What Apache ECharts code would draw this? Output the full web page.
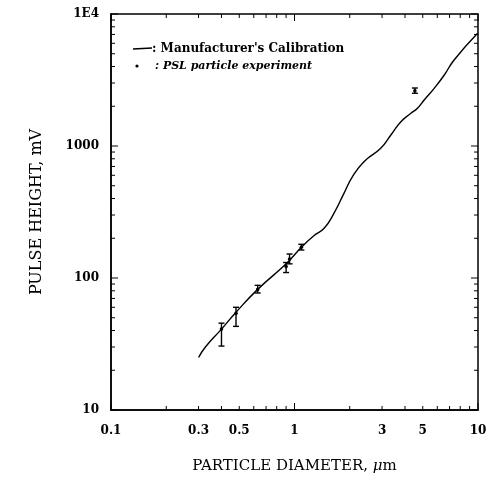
<!DOCTYPE html>
<html>
<head>
<meta charset="utf-8">
<script src="https://cdn.jsdelivr.net/npm/echarts@6/dist/echarts.min.js"></script>
<style>
  html, body { margin: 0; padding: 0; background: #fff; }
  #main { width: 493px; height: 480px; }
</style>
</head>
<body>
<div id="main"></div>
<script>
(function () {
    // calibration curve (manufacturer)
    const curveX = [0.30, 0.327, 0.40, 0.48, 0.63, 0.91, 1.09, 1.27, 1.45, 1.64, 1.86, 2.07, 2.39, 2.95, 3.35, 3.80, 4.31, 4.68, 5.09, 5.77, 6.55, 7.41, 9.95]
    const curveY = [25, 30, 41, 55, 82, 130, 171, 208, 238, 309, 438, 586, 760, 961, 1211, 1528, 1769, 1932, 2230, 2735, 3451, 4487, 7150]

    // PSL particle experiment, mean and error bar ends
    const pslX = [0.40, 0.48, 0.63, 0.90, 0.94, 1.09, 4.53]
    const pslMid = [41, 54, 82, 122, 139, 171, 2620]
    const pslLow = [30.5, 43, 77, 110, 128, 163, 2510]
    const pslHigh = [45.5, 60, 88, 131, 152, 180, 2750]

    // axis ticks and labels
    const xTickLabels = [0.1, 0.3, 0.5, 1, 3, 5, 10]
    const xMajor = [0.1, 1, 10]
    const xMinor = [0.2, 0.3, 0.4, 0.5, 0.6, 0.7, 0.8, 0.9, 2, 3, 4, 5, 6, 7, 8, 9]
    const yMajor = [10, 100, 1000, 10000]
    const yMinor = [20, 30, 40, 50, 60, 70, 80, 90, 200, 300, 400, 500, 600, 700, 800, 900,
        2000, 3000, 4000, 5000, 6000, 7000, 8000, 9000]

    const X_MIN = 0.1, X_MAX = 10, Y_MIN = 10, Y_MAX = 10000
    const serif = '"DejaVu Serif", "Liberation Serif", serif'

    const chart = echarts.init(document.getElementById('main'))

    const curveData = curveX.map((x, i) => [x, curveY[i]])
    const pslData = pslX.map((x, i) => [x, pslMid[i], pslLow[i], pslHigh[i]])

    const xTickData = xMajor.map(v => [v, Y_MIN, 1]).concat(xMinor.map(v => [v, Y_MIN, 0]))
    const yTickData = yMajor.map(v => [X_MIN, v, 1]).concat(yMinor.map(v => [X_MIN, v, 0]))

    const option = {
        animation: false,
        grid: { left: 111, right: 15, top: 14, bottom: 70, show: true, borderColor: '#000', borderWidth: 1.5 },
        xAxis: {
            type: 'log',
            logBase: 10,
            min: X_MIN,
            max: X_MAX,
            name: 'PARTICLE DIAMETER, {mu|μ}m',
            nameLocation: 'middle',
            nameGap: 49,
            nameTextStyle: {
                fontFamily: serif, fontSize: 15, color: '#000',
                rich: { mu: { fontFamily: serif, fontSize: 15, fontStyle: 'italic', color: '#000' } }
            },
            axisLine: { lineStyle: { color: '#000', width: 1.5 } },
            axisTick: { show: false },
            axisLabel: { show: false },
            splitLine: { show: false },
            minorTick: { show: false },
            minorSplitLine: { show: false }
        },
        yAxis: {
            type: 'log',
            logBase: 10,
            min: Y_MIN,
            max: Y_MAX,
            name: 'PULSE HEIGHT, mV',
            nameLocation: 'middle',
            nameGap: 66,
            nameTextStyle: { fontFamily: serif, fontSize: 16, color: '#000' },
            axisLine: { lineStyle: { color: '#000', width: 1.5 } },
            axisTick: { show: false },
            axisLabel: {
                fontFamily: serif, fontSize: 12, fontWeight: 'bold', color: '#000', margin: 12,
                formatter: function (v) {
                    const r = Math.round(v)
                    return r === 10000 ? '1E4' : String(r)
                }
            },
            splitLine: { show: false },
            minorTick: { show: false },
            minorSplitLine: { show: false }
        },
        graphic: [
            { type: 'line', shape: { x1: 133, y1: 49, x2: 152, y2: 48 }, style: { stroke: '#000', lineWidth: 1.3 } },
            { type: 'text', x: 152, y: 49, style: { text: ": Manufacturer's Calibration", font: 'bold 12px ' + serif, fill: '#000', textVerticalAlign: 'middle' } },
            { type: 'circle', shape: { cx: 137, cy: 66, r: 1.6 }, style: { fill: '#000' } },
            { type: 'text', x: 155, y: 66, style: { text: ': PSL particle experiment', font: 'italic bold 11px ' + serif, fill: '#000', textVerticalAlign: 'middle' } }
        ],
        series: [
            {
                // calibration curve
                type: 'line',
                data: curveData,
                smooth: 0.5,
                showSymbol: false,
                lineStyle: { color: '#000', width: 1.4 },
                silent: true,
                z: 3
            },
            {
                // error bars
                type: 'custom',
                data: pslData,
                silent: true,
                z: 4,
                renderItem: function (params, api) {
                    const top = api.coord([api.value(0), api.value(3)])
                    const bot = api.coord([api.value(0), api.value(2)])
                    const mid = api.coord([api.value(0), api.value(1)])
                    const w = 3
                    const st = { stroke: '#000', lineWidth: 1.4 }
                    return {
                        type: 'group',
                        children: [
                            { type: 'line', shape: { x1: top[0], y1: top[1], x2: bot[0], y2: bot[1] }, style: st },
                            { type: 'line', shape: { x1: top[0] - w, y1: top[1], x2: top[0] + w, y2: top[1] }, style: st },
                            { type: 'line', shape: { x1: bot[0] - w, y1: bot[1], x2: bot[0] + w, y2: bot[1] }, style: st },
                            { type: 'circle', shape: { cx: mid[0], cy: mid[1], r: 1.8 }, style: { fill: '#000' } }
                        ]
                    }
                }
            },
            {
                // x ticks, bottom and top, pointing inside
                type: 'custom',
                data: xTickData,
                silent: true,
                clip: false,
                renderItem: function (params, api) {
                    const b = api.coord([api.value(0), Y_MIN])
                    const t = api.coord([api.value(0), Y_MAX])
                    const len = api.value(2) ? 7 : 4
                    const st = { stroke: '#000', lineWidth: 1 }
                    return {
                        type: 'group',
                        children: [
                            { type: 'line', shape: { x1: b[0], y1: b[1], x2: b[0], y2: b[1] - len }, style: st },
                            { type: 'line', shape: { x1: t[0], y1: t[1], x2: t[0], y2: t[1] + len }, style: st }
                        ]
                    }
                }
            },
            {
                // y ticks, left and right, pointing inside
                type: 'custom',
                data: yTickData,
                silent: true,
                clip: false,
                renderItem: function (params, api) {
                    const l = api.coord([X_MIN, api.value(1)])
                    const r = api.coord([X_MAX, api.value(1)])
                    const len = api.value(2) ? 7 : 4
                    const st = { stroke: '#000', lineWidth: 1 }
                    return {
                        type: 'group',
                        children: [
                            { type: 'line', shape: { x1: l[0], y1: l[1], x2: l[0] + len, y2: l[1] }, style: st },
                            { type: 'line', shape: { x1: r[0], y1: r[1], x2: r[0] - len, y2: r[1] }, style: st }
                        ]
                    }
                }
            },
            {
                // x tick labels (0.1 0.3 0.5 1 3 5 10)
                type: 'custom',
                data: xTickLabels.map(v => [v, Y_MIN]),
                silent: true,
                clip: false,
                renderItem: function (params, api) {
                    const p = api.coord([api.value(0), Y_MIN])
                    return {
                        type: 'text',
                        x: p[0],
                        y: p[1] + 21,
                        style: {
                            text: String(xTickLabels[params.dataIndex]),
                            font: 'bold 12px ' + serif,
                            fill: '#000',
                            textAlign: 'center',
                            textVerticalAlign: 'middle'
                        }
                    }
                }
            }
        ]
    }
    chart.setOption(option)
})()
</script>
</body>
</html>
